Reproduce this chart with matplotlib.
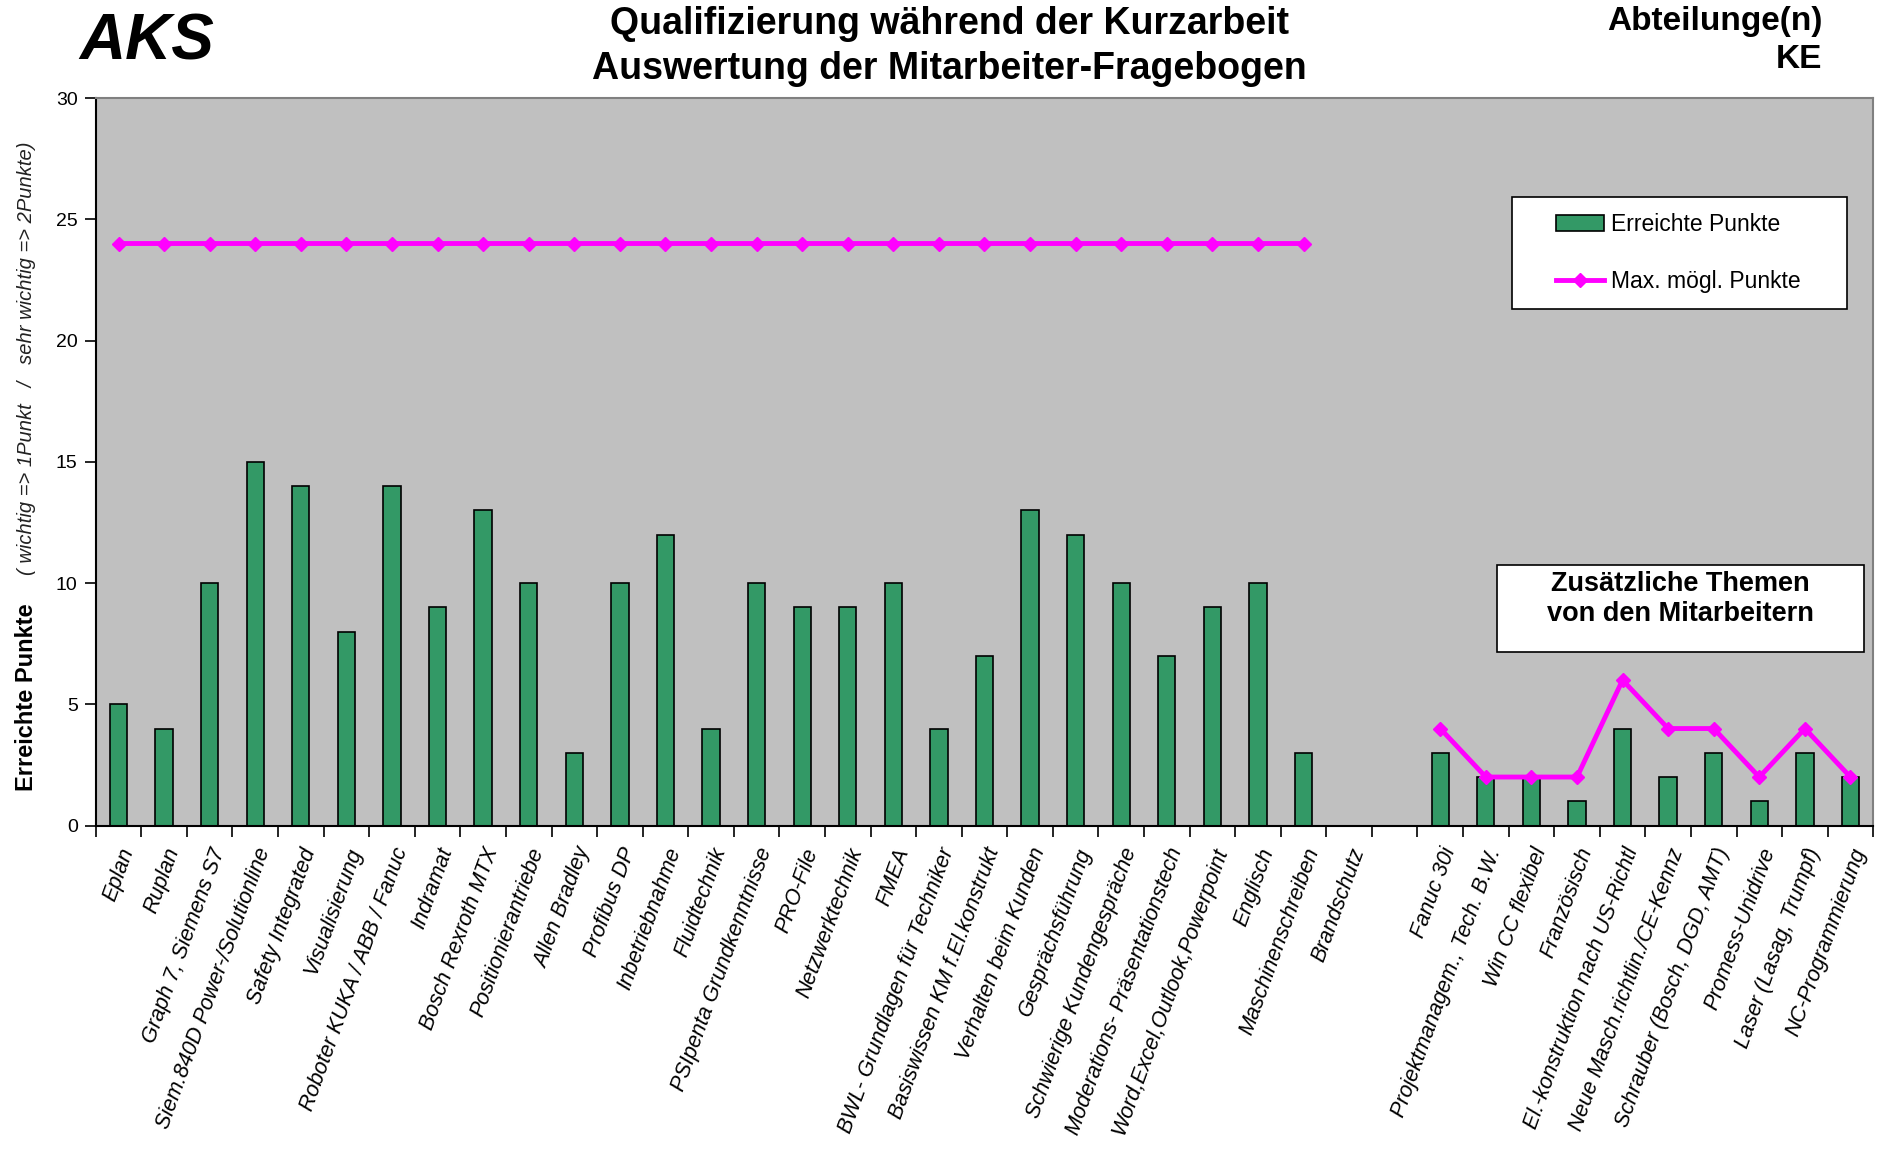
import numpy as np
import matplotlib
matplotlib.use("Agg")
import matplotlib.pyplot as plt
from matplotlib.lines import Line2D
from matplotlib.patches import Patch, Rectangle

plt.rcParams["font.family"] = ["Liberation Sans", "DejaVu Sans"]

# --- data ---
themen_main = [
    "Eplan", "Ruplan", "Graph 7, Siemens S7", "Siem.840D Power-/Solutionline",
    "Safety Integrated", "Visualisierung", "Roboter KUKA / ABB / Fanuc", "Indramat",
    "Bosch Rexroth MTX", "Positionierantriebe", "Allen Bradley", "Profibus DP",
    "Inbetriebnahme", "Fluidtechnik", "PSIpenta Grundkenntnisse", "PRO-File",
    "Netzwerktechnik", "FMEA", "BWL- Grundlagen für Techniker",
    "Basiswissen KM f.El.konstrukt", "Verhalten beim Kunden", "Gesprächsführung",
    "Schwierige Kundengespräche", "Moderations- Präsentationstech",
    "Word,Excel,Outlook,Powerpoint", "Englisch", "Maschinenschreiben", "Brandschutz",
]
punkte_main = [5, 4, 10, 15, 14, 8, 14, 9, 13, 10, 3, 10, 12, 4, 10, 9, 9, 10, 4, 7,
               13, 12, 10, 7, 9, 10, 3, 0]
max_main = [24] * 27 + [np.nan]  # Brandschutz without max point

themen_extra = [
    "Fanuc 30i", "Projektmanagem., Tech. B.W.", "Win CC flexibel", "Französisch",
    "El.-konstruktion nach US-Richtl", "Neue Masch.richtlin./CE-Kennz",
    "Schrauber (Bosch, DGD, AMT)", "Promess-Unidrive", "Laser (Lasag, Trumpf)",
    "NC-Programmierung",
]
punkte_extra = [3, 2, 2, 1, 4, 2, 3, 1, 3, 2]
max_extra = [4, 2, 2, 2, 6, 4, 4, 2, 4, 2]

# one empty slot between the two groups
labels = themen_main + [""] + themen_extra
punkte = np.array(punkte_main + [np.nan] + punkte_extra, dtype=float)
maxp = np.array(max_main + [np.nan] + max_extra, dtype=float)
x = np.arange(len(labels))

fig = plt.figure(figsize=(18.77, 11.53), dpi=100)
ax = fig.add_axes([0.051, 0.284, 0.947, 0.631])
ax.set_facecolor("#C0C0C0")

ax.bar(x, np.nan_to_num(punkte), width=0.38, color="#339966", edgecolor="black",
       linewidth=1.2, zorder=2)
ax.plot(x, maxp, color="#FF00FF", linewidth=3.5, marker="D", markersize=7,
        zorder=3)

ax.set_xlim(-0.5, len(labels) - 0.5)
ax.set_ylim(0, 30)
ax.set_yticks(range(0, 31, 5))
ax.tick_params(axis="y", direction="out", length=8, width=1.2, labelsize=14,
               pad=5)

ax.set_xticks(x)
ax.set_xticklabels(labels, rotation=70, ha="right", rotation_mode="anchor",
                   fontsize=15.5, fontstyle="italic")
ax.tick_params(axis="x", which="major", length=0, pad=14)
ax.set_xticks(np.arange(-0.5, len(labels), 1), minor=True)
ax.tick_params(axis="x", which="minor", direction="out", length=8, width=1.2)

for side in ("top", "right"):
    ax.spines[side].set_color("#808080")
    ax.spines[side].set_linewidth(1.5)
for side in ("left", "bottom"):
    ax.spines[side].set_color("black")
    ax.spines[side].set_linewidth(1.5)

# y axis label: bold part + italic note
fig.text(0.014, 0.395, "Erreichte Punkte", rotation=90, fontsize=17,
         fontweight="bold", ha="center", va="center")
fig.text(0.014, 0.689, "( wichtig => 1Punkt   /   sehr wichtig => 2Punkte)",
         rotation=90, fontsize=14.5, fontstyle="italic", ha="center",
         va="center", color="#222222")

# header texts
fig.text(0.506, 0.979, "Qualifizierung während der Kurzarbeit", fontsize=27,
         fontweight="bold", ha="center", va="center")
fig.text(0.506, 0.940, "Auswertung der Mitarbeiter-Fragebogen", fontsize=27,
         fontweight="bold", ha="center", va="center")
fig.text(0.042, 0.963, "AKS", fontsize=46, fontweight="bold",
         fontstyle="italic", ha="left", va="center")
fig.text(0.971, 0.981, "Abteilunge(n)", fontsize=24, fontweight="bold",
         ha="right", va="center")
fig.text(0.971, 0.948, "KE", fontsize=24, fontweight="bold", ha="right",
         va="center")

# legend: frame drawn separately so the entries can sit with a left inset
ax.add_patch(Rectangle((0.7966, 0.7105), 0.1884, 0.153, transform=ax.transAxes,
                       facecolor="white", edgecolor="black", linewidth=1.2,
                       zorder=4))
handles = [Patch(facecolor="#339966", edgecolor="black", linewidth=1.2),
           Line2D([], [], color="#FF00FF", linewidth=3.5, marker="D",
                  markersize=7)]
leg = ax.legend(handles, ["Erreichte Punkte", "Max. mögl. Punkte"],
                loc="center left", bbox_to_anchor=(0.8215, 0.787),
                fontsize=16.5, frameon=False, labelspacing=1.5,
                handlelength=2.1, handletextpad=0.3, borderpad=0,
                borderaxespad=0)
leg.set_zorder(5)

# annotation box for the extra topics
ax.add_patch(Rectangle((0.7886, 0.2385), 0.206, 0.120, transform=ax.transAxes,
                       facecolor="white", edgecolor="black", linewidth=1.2,
                       zorder=4))
ax.text(0.8916, 0.3495, "Zusätzliche Themen\nvon den Mitarbeitern",
        transform=ax.transAxes, fontsize=19.5, fontweight="bold", ha="center",
        va="top", linespacing=1.2, zorder=5)

fig.savefig("out.png", dpi=100)
